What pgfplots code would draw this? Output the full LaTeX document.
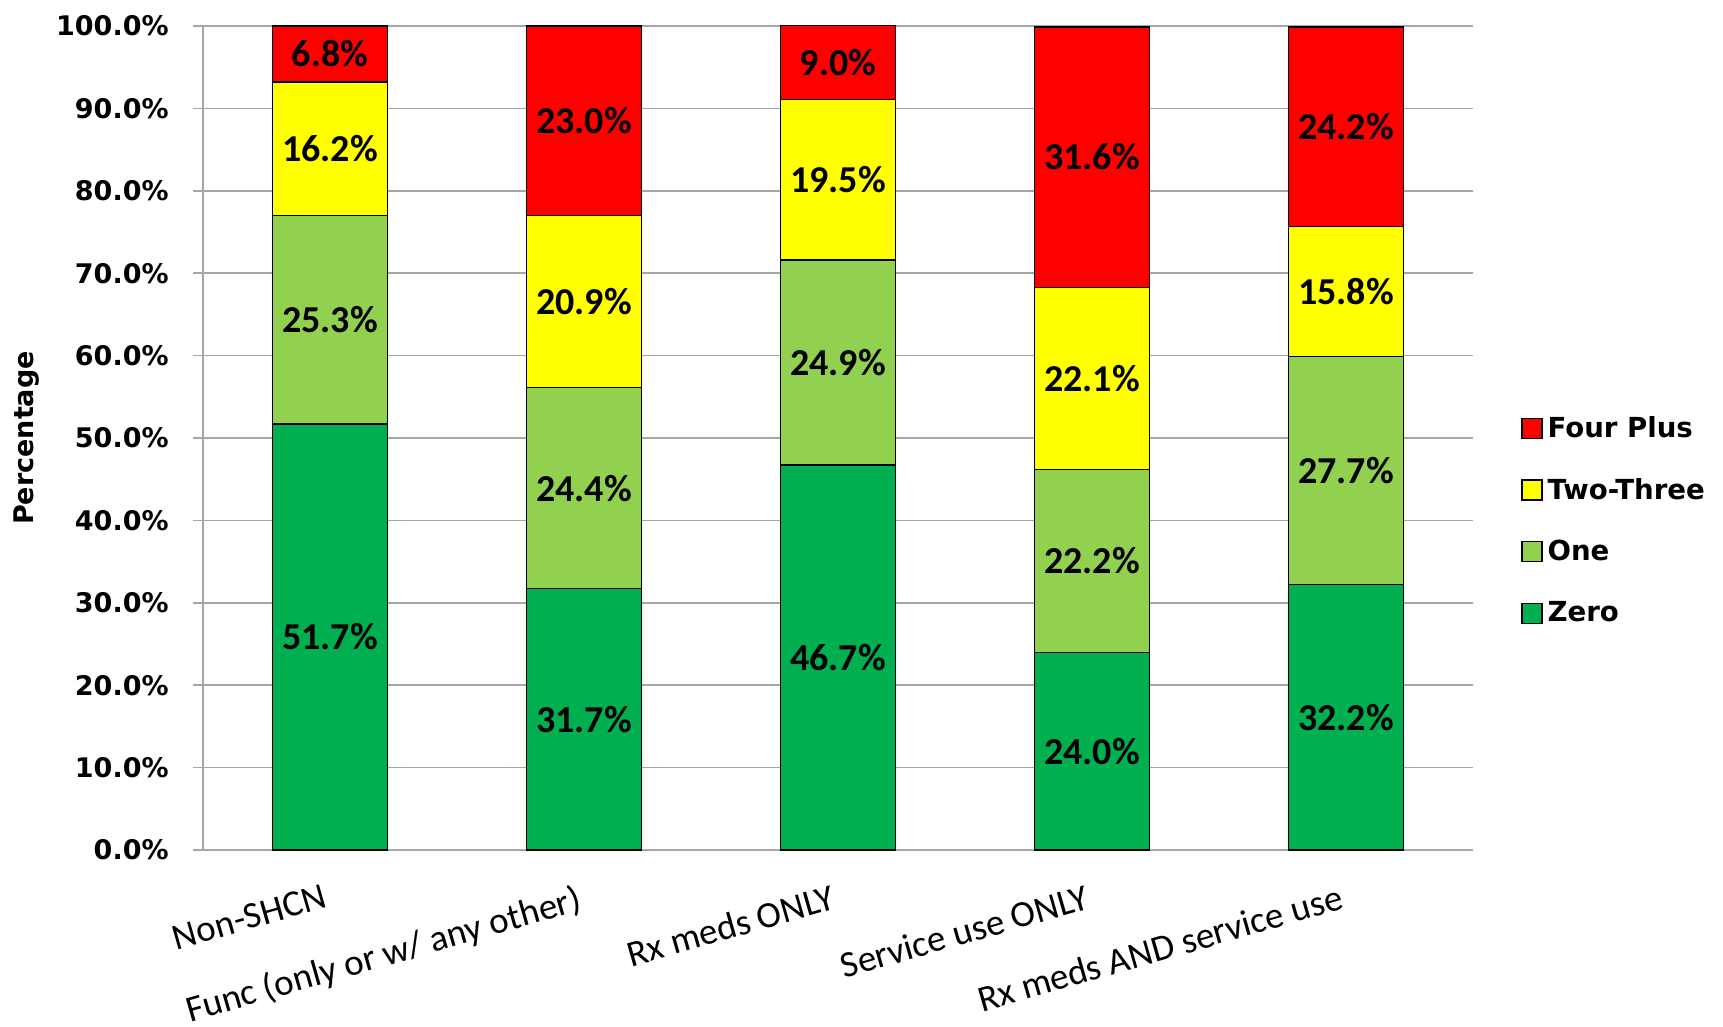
\documentclass[border=0pt]{standalone}
\usepackage{fontspec}
\setmainfont{Carlito}
\newfontfamily\tah{DejaVu Sans}
\usepackage{pgfplots}
\usepackage{pgfplotstable}
\pgfplotsset{compat=1.18}

\definecolor{cFour}{HTML}{FF0000}
\definecolor{cTwo}{HTML}{FFFF00}
\definecolor{cOne}{HTML}{92D050}
\definecolor{cZero}{HTML}{00B050}
\definecolor{gridgray}{HTML}{A6A6A6}

\newcommand{\tickfont}{\tah\bfseries\fontsize{13.5}{16}\selectfont}

% segment values
\pgfplotstableread{
x zero one two four
0 51.7 25.3 16.2 6.8
1 31.7 24.4 20.9 23.0
2 46.7 24.9 19.5 9.0
3 24.0 22.2 22.1 31.6
4 32.2 27.7 15.8 24.2
}\datatable

% label positions (middle of each segment) and texts
\pgfplotstableread{
x mid lab
0 25.85 51.7
0 64.35 25.3
0 85.10 16.2
0 96.60 6.8
1 15.85 31.7
1 43.90 24.4
1 66.55 20.9
1 88.50 23.0
2 23.35 46.7
2 59.15 24.9
2 81.35 19.5
2 95.55 9.0
3 12.00 24.0
3 35.10 22.2
3 57.25 22.1
3 84.10 31.6
4 16.10 32.2
4 46.05 27.7
4 67.80 15.8
4 87.80 24.2
}\labtable

\begin{document}
\begin{tikzpicture}
\begin{axis}[
  scale only axis, width=635pt, height=412pt,
  ybar stacked, bar width=0.455,
  xmin=-0.5, xmax=4.5, ymin=0, ymax=100,
  axis x line*=bottom, axis y line*=left,
  axis line style={gridgray, line width=0.8pt},
  xtick={0,1,2,3,4},
  xticklabels={Non-SHCN, Func (only or w/ any other), Rx meds ONLY, Service use ONLY, Rx meds AND service use},
  xticklabel style={rotate=16, anchor=north east, inner sep=0pt, yshift=-10pt, xshift=-7pt,
    font=\fontsize{18.5}{22}\selectfont},
  major x tick style={draw=none},
  ytick={0,10,...,100},
  tick align=outside, major tick length=5pt,
  major y tick style={gridgray, line width=0.8pt},
  /pgf/number format/assume math mode=true,
  yticklabel={\pgfmathprintnumber[fixed,fixed zerofill,precision=1]{\tick}\%},
  yticklabel style={font=\tickfont, inner sep=0pt, xshift=-12pt},
  ymajorgrids, grid style={gridgray, line width=0.8pt},
  ylabel={Percentage},
  every axis y label/.style={at={(rel axis cs:0,0.5)}, xshift=-88pt, rotate=90,
    anchor=center, font=\tickfont},
  legend style={draw=none, fill=none, at={(rel axis cs:1,0.40)}, xshift=24pt, anchor=west,
    font=\tah\bfseries\fontsize{13.8}{16}\selectfont, row sep=14pt, inner sep=0pt, cells={anchor=west},
    nodes={inner sep=2.5pt}},
  reverse legend,
  legend image code/.code={\draw[#1, draw=black, line width=0.6pt] (0pt,-5pt) rectangle (10pt,5pt);},
  every axis plot/.append style={draw=black, line width=0.7pt},
]
\addplot[fill=cZero] table[x=x, y=zero] {\datatable};
\addlegendentry{Zero}
\addplot[fill=cOne] table[x=x, y=one] {\datatable};
\addlegendentry{One}
\addplot[fill=cTwo] table[x=x, y=two] {\datatable};
\addlegendentry{Two-Three}
\addplot[fill=cFour] table[x=x, y=four] {\datatable};
\addlegendentry{Four Plus}
\end{axis}
% value labels, same frame as the bars
\begin{axis}[
  scale only axis, width=635pt, height=412pt,
  xmin=-0.5, xmax=4.5, ymin=0, ymax=100,
  hide axis,
  /pgf/number format/assume math mode=true,
]
\addplot[only marks, mark=none, point meta=explicit,
  nodes near coords={\pgfmathprintnumber[fixed,fixed zerofill,precision=1]{\pgfplotspointmeta}\%},
  nodes near coords align=center,
  every node near coord/.append style={anchor=center, text=black,
    font=\bfseries\fontsize{19}{22}\selectfont}]
  table[x=x, y=mid, meta=lab] {\labtable};
\end{axis}
\pgfresetboundingbox
\path ([shift={(-101.5pt,-88.5pt)}]current axis.south west) rectangle ([shift={(125pt,13pt)}]current axis.north east);
\end{tikzpicture}
\end{document}
